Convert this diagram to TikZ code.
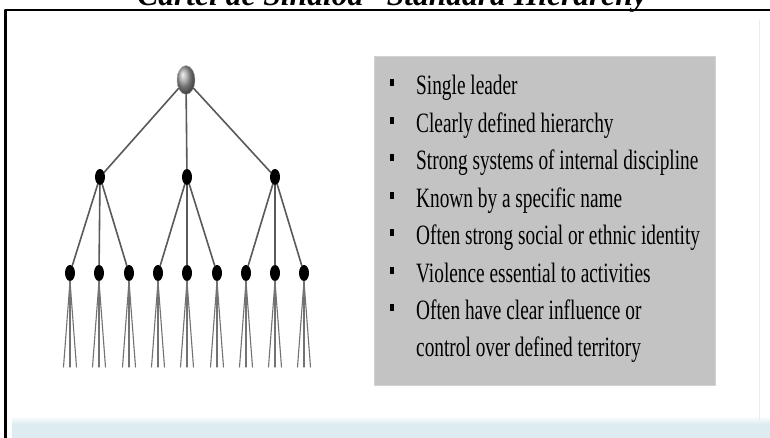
\documentclass[tikz,border=0pt]{standalone}
\usepackage{fontspec}
\setmainfont{Liberation Serif}
\newfontfamily\listfont[FakeStretch=0.69]{Liberation Serif}
\usetikzlibrary{shapes.geometric}
\definecolor{boxgray}{HTML}{C3C3C3}
\definecolor{band}{HTML}{DDECF0}

\begin{document}
\begin{tikzpicture}[
  x=1pt, y=-1pt,
  line cap=round, line join=round,
  boss/.style={ellipse, draw=gray!50, shading=ball, ball color=gray!75, minimum width=18pt, minimum height=29pt, inner sep=0pt},
  member/.style={ellipse, fill=black, minimum width=10pt, minimum height=16pt, inner sep=0pt},
  link/.style={draw=black!65, line width=1.6pt},
  strand/.style={draw=black!55, line width=1.1pt},
  entry/.style={anchor=base west, inner sep=0pt, font=\listfont\fontsize{28}{30}\selectfont},
  bulletbox/.style={fill=black, minimum width=4pt, minimum height=7pt, inner sep=0pt}
]
  \useasboundingbox (0,0) rectangle (770,438);
  \fill[white] (0,0) rectangle (770,438);
  % slide frame and bottom band
  \fill[band] (12,424) rectangle (770,438);
  \shade[top color=white, bottom color=band] (12,416) rectangle (770,424);
  \draw[gray!15, line width=1pt] (759,20) -- (759,420);
  \draw[line width=2.7pt, line cap=butt] (5.5,440) -- (5.5,10) -- (772,10);
  % title, cut by the page edge
  \node[anchor=base, inner sep=0pt, font=\bfseries\itshape\fontsize{31.5}{32}\selectfont] (title) at (400,6) {Cartel de Sinaloa “Standard Hierarchy”};
  % grey text panel
  \filldraw[fill=boxgray, draw=gray!35] (374,56) rectangle (715,385);
  % hierarchy
  \node[boss] (root) at (186,80) {};
  \foreach \i/\x in {1/100, 2/187, 3/275}
    \node[member] (m\i) at (\x,177) {};
  \foreach \j/\x in {1/70, 2/99, 3/129, 4/158, 5/187, 6/217, 7/246, 8/275, 9/304}
    \node[member] (l\j) at (\x,273) {};
  \foreach \i in {1,2,3}
    \draw[link] (root) -- (m\i);
  \foreach \i/\a/\b/\c in {1/1/2/3, 2/4/5/6, 3/7/8/9} {
    \draw[link] (m\i) -- (l\a);
    \draw[link] (m\i) -- (l\b);
    \draw[link] (m\i) -- (l\c);
  }
  % loose ends under each leaf
  \foreach \j/\x in {1/70, 2/99, 3/129, 4/158, 5/187, 6/217, 7/246, 8/275, 9/304}
    \foreach \dx [count=\k] in {-6.5, 0, 6.5} {
      \coordinate (t\j-\k) at ({\x+\dx},367);
      \draw[strand] (l\j.south) -- (t\j-\k);
    }
  % characteristics
  \foreach \txt [count=\n] in {Single leader, Clearly defined hierarchy,
      Strong systems of internal discipline, Known by a specific name,
      Often strong social or ethnic identity, Violence essential to activities,
      Often have clear influence or} {
    \node[bulletbox] (b\n) at (392,{83+37.4*(\n-1)}) {};
    \node[entry] (e\n) at (416,{95+37.4*(\n-1)}) {\txt};
  }
  \node[entry] (e8) at (416,356.8) {control over defined territory};
\end{tikzpicture}
\end{document}
